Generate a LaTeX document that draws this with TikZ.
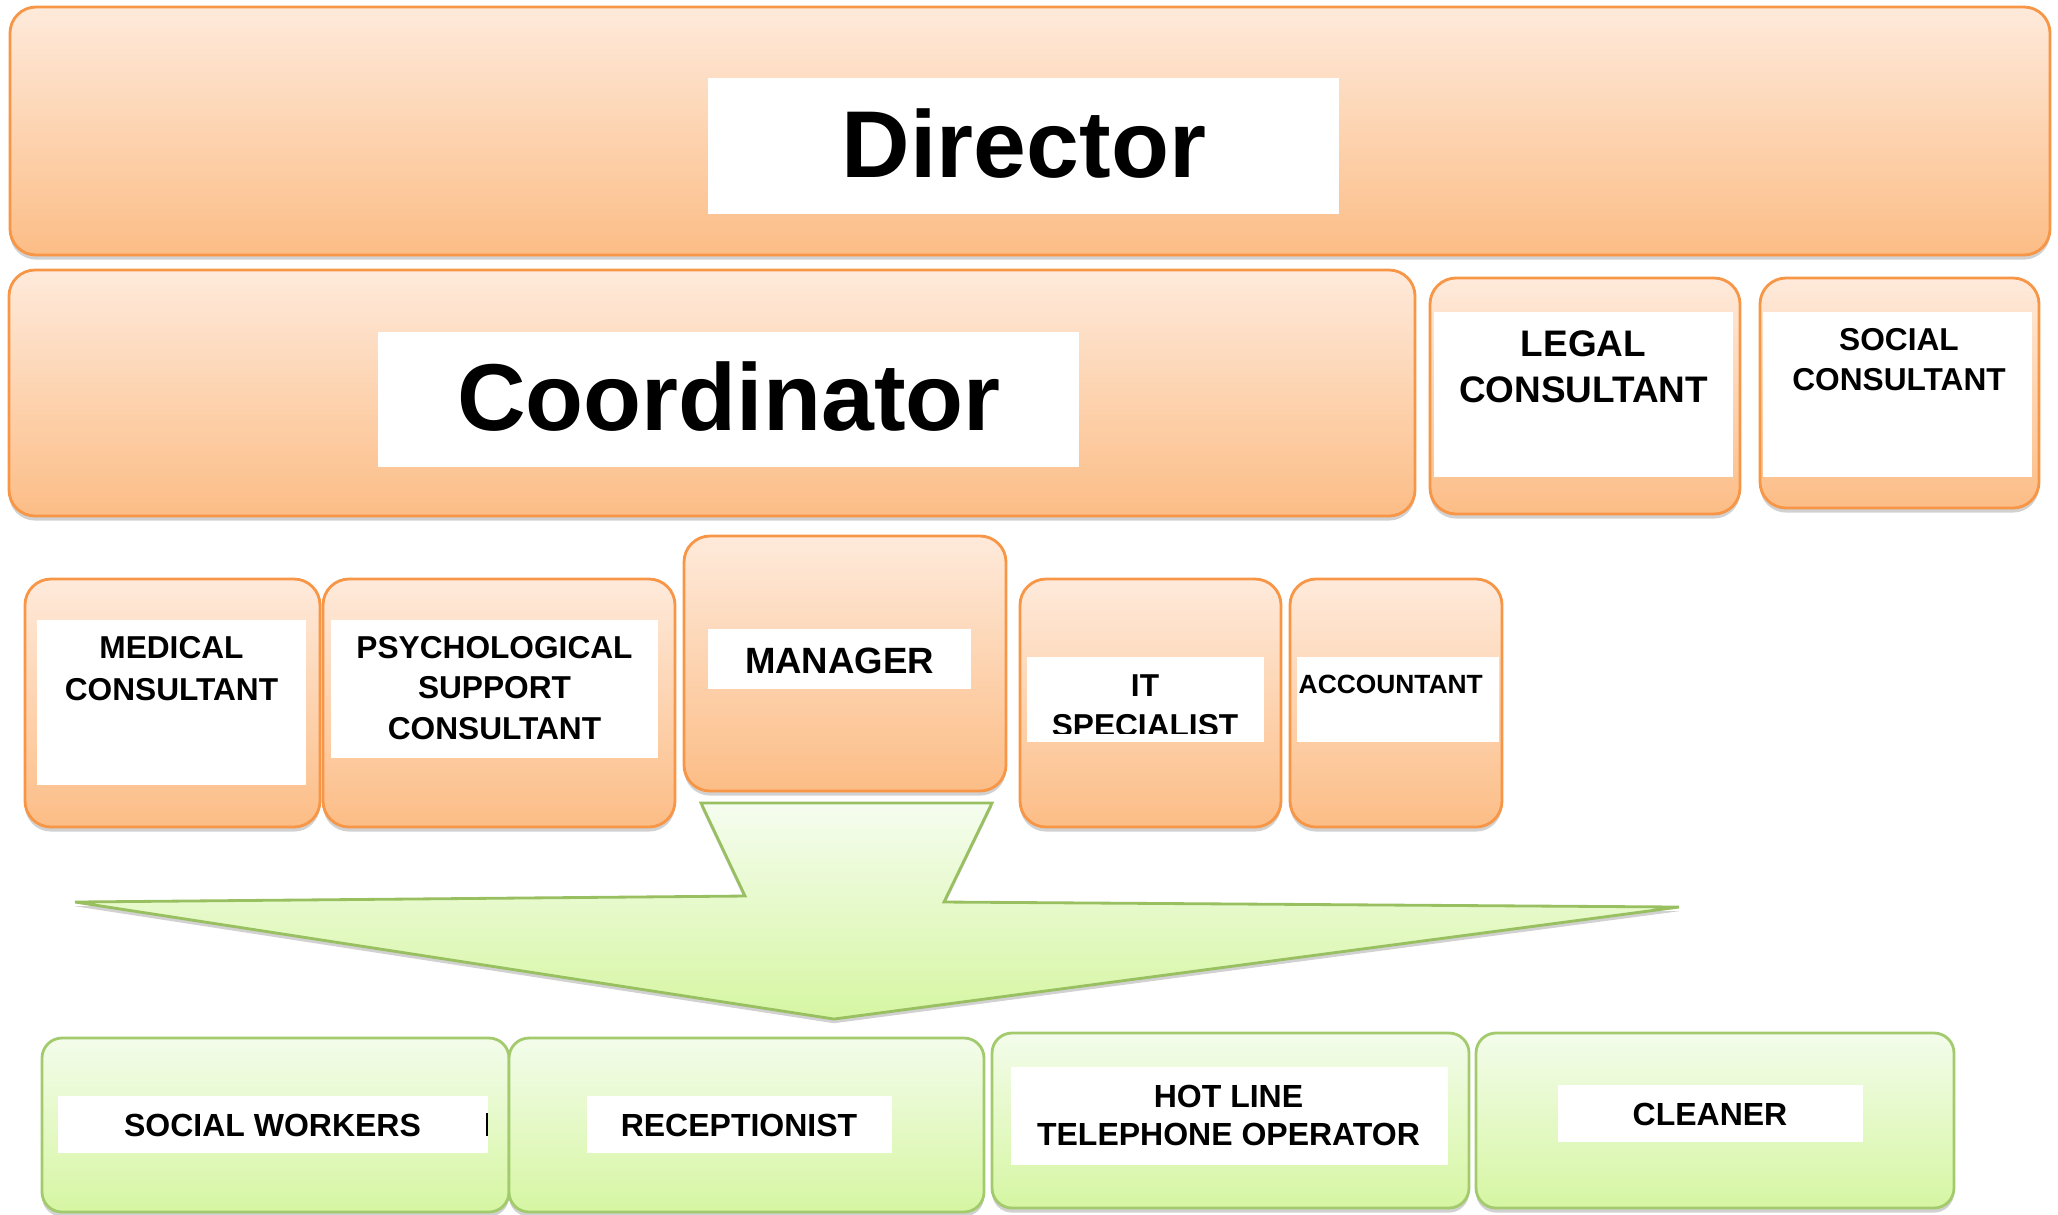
\documentclass[tikz,border=0pt]{standalone}
\usepackage{fontspec}
\setmainfont{Liberation Sans}
\usetikzlibrary{fit,shadows}
\definecolor{orTop}{HTML}{FEEADB}
\definecolor{orBot}{HTML}{FCBD86}
\definecolor{orLine}{HTML}{F79646}
\definecolor{grTop}{HTML}{F3FCEB}
\definecolor{grBot}{HTML}{D6F6A2}
\definecolor{grLine}{HTML}{A3CB6E}
\definecolor{arLine}{HTML}{98BF60}
\begin{document}
\begin{tikzpicture}[x=0.01cm, y=-0.01cm,
  boxshadow/.style={drop shadow={shadow xshift=0pt, shadow yshift=-1.3pt, opacity=0.3, fill=black!60}},
  obox/.style={draw=orLine, line width=0.8pt, rounded corners=0.26cm,
    top color=orTop, bottom color=orBot, inner sep=0pt, boxshadow},
  gbox/.style={draw=grLine, line width=0.8pt, rounded corners=0.2cm,
    top color=grTop, bottom color=grBot, inner sep=0pt, boxshadow},
  wlabel/.style={fill=white, inner sep=0pt},
  role/.style={align=center, inner sep=0pt},
  fs/.style 2 args={font=\fontsize{#1}{#2}\selectfont\bfseries},
]
\useasboundingbox (0,0) rectangle (2058,1214);

% ---- top level ----
\node[obox, fit={(10,7) (2050,255)}] (director) {};
\node[wlabel, fit={(708,78) (1339,214)}] (directorlab) {};
\node[role, fs={27}{32}, anchor=base] (directortxt) at (1024,177) {Director};

\node[obox, fit={(9,270) (1415,516)}] (coord) {};
\node[wlabel, fit={(378,332) (1079,467)}] (coordlab) {};
\node[role, fs={27}{32}, anchor=base] (coordtxt) at (729,430) {Coordinator};

\node[obox, fit={(1430,278) (1740,514)}] (legal) {};
\node[wlabel, fit={(1434,312) (1733,477)}] (legallab) {};
\node[role, fs={10.5}{13.1}] (legaltxt) at (1583.5,366.5) {LEGAL\\CONSULTANT};

\node[obox, fit={(1760,278) (2039,508)}] (socialc) {};
\node[wlabel, fit={(1763,312) (2032,477)}] (socialclab) {};
\node[role, fs={9}{11.4}] (socialctxt) at (1899,360) {SOCIAL\\CONSULTANT};

% ---- middle level ----
\node[obox, fit={(25,579) (320,827)}] (medical) {};
\node[wlabel, fit={(37,620) (306,785)}] (medicallab) {};
\node[role, fs={9}{11.95}] (medicaltxt) at (171.5,668.5) {MEDICAL\\CONSULTANT};

\node[obox, fit={(323,579) (675,827)}] (psych) {};
\node[wlabel, fit={(331,620) (658,758)}] (psychlab) {};
\node[role, fs={9}{11.5}] (psychtxt) at (494.5,688) {PSYCHOLOGICAL\\SUPPORT\\CONSULTANT};

\node[obox, fit={(684,536) (1006,791)}] (manager) {};
\node[wlabel, fit={(708,629) (971,689)}] (managerlab) {};
\node[role, fs={10.4}{12.5}, anchor=base] (managertxt) at (839.5,673) {MANAGER};

\node[obox, fit={(1020,579) (1281,827)}] (it) {};
\node[wlabel, fit={(1027,657) (1264,742)}] (itlab) {};
\begin{scope}
  \clip (1027,657) rectangle (1264,733);
  \node[role, fs={9}{11.4}] (ittxt) at (1145,705.5) {IT\\SPECIALIST};
\end{scope}

\node[obox, fit={(1290,579) (1502,827)}] (account) {};
\node[wlabel, fit={(1297,657) (1499,742)}] (accountlab) {};
\node[role, fs={7.5}{9}, anchor=base west] (accounttxt) at (1298,693) {ACCOUNTANT};

% ---- downward arrow ----
\coordinate (a1) at (701,803);
\coordinate (a2) at (992,803);
\coordinate (a3) at (944,902);
\coordinate (a4) at (1679,907);
\coordinate (a5) at (834,1019);
\coordinate (a6) at (75,902);
\coordinate (a7) at (745,896);
\path[draw=arLine, line width=0.8pt, top color=grTop!80!white, bottom color=grBot,
  drop shadow={shadow xshift=0pt, shadow yshift=-1.2pt, opacity=0.3, fill=black!60}]
  (a1) -- (a2) -- (a3) -- (a4) -- (a5) -- (a6) -- (a7) -- cycle;

% ---- bottom level ----
\node[gbox, fit={(42,1038) (509,1212)}] (socialw) {};
\node[wlabel, fit={(58,1096) (488,1153)}] (socialwlab) {};
\node[role, fs={9.1}{11}, anchor=base] (socialwtxt) at (272.5,1136) {SOCIAL WORKERS};
\coordinate (tickt) at (487,1113);
\coordinate (tickb) at (487,1136);
\draw[line width=0.7pt] (tickt) -- (tickb);

\node[gbox, fit={(509,1038) (984,1212)}] (recep) {};
\node[wlabel, fit={(587,1096) (892,1153)}] (receplab) {};
\node[role, fs={9.1}{11}, anchor=base] (receptxt) at (739,1136) {RECEPTIONIST};

\node[gbox, fit={(992,1033) (1469,1208)}] (hotline) {};
\node[wlabel, fit={(1011,1067) (1448,1165)}] (hotlinelab) {};
\node[role, fs={9.1}{10.8}] (hotlinetxt) at (1228.5,1115.5) {HOT LINE\\TELEPHONE OPERATOR};

\node[gbox, fit={(1476,1033) (1954,1208)}] (cleaner) {};
\node[wlabel, fit={(1558,1085) (1863,1142)}] (cleanerlab) {};
\node[role, fs={9.1}{11}, anchor=base] (cleanertxt) at (1710,1125) {CLEANER};
\end{tikzpicture}
\end{document}
